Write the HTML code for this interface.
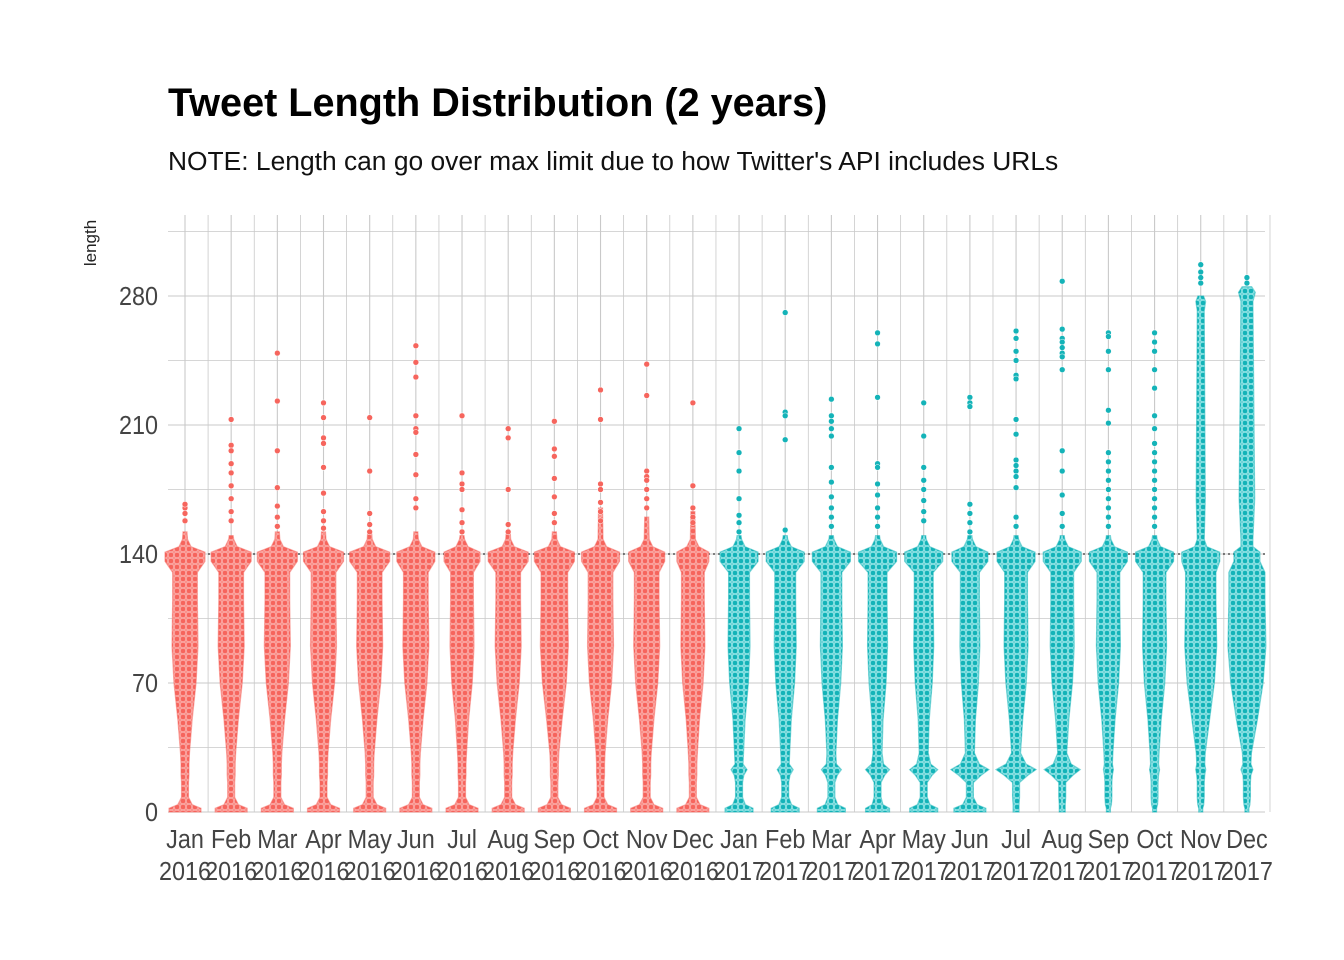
<!DOCTYPE html>
<html><head><meta charset="utf-8">
<style>
body{margin:0;background:#fff;}
svg{display:block;font-family:"Liberation Sans",sans-serif;}
</style></head>
<body>
<svg id="chart" width="1344" height="960" viewBox="0 0 1344 960">
<defs>
<pattern id="dotsR" width="6" height="6" patternUnits="userSpaceOnUse"><rect width="6" height="6" fill="#f9928b"/><circle cx="3" cy="3" r="2.7" fill="#F6655D" stroke="#fcc" stroke-width="0.5"/></pattern>
<pattern id="dotsT" width="6" height="6" patternUnits="userSpaceOnUse"><rect width="6" height="6" fill="#6fd3d6"/><circle cx="3" cy="3" r="2.7" fill="#14B3B8" stroke="#cff" stroke-width="0.5"/></pattern>
</defs>
<text x="168" y="116" font-size="40" font-weight="bold" fill="#000" transform="translate(168,0) scale(0.99,1) translate(-168,0)">Tweet Length Distribution (2 years)</text>
<text x="168" y="170" font-size="26" fill="#111" transform="translate(168,0) scale(1.015,1) translate(-168,0)">NOTE: Length can go over max limit due to how Twitter's API includes URLs</text>
<text transform="translate(96,243) rotate(-90)" text-anchor="middle" font-size="17" fill="#222">length</text>
<g id="grid"></g><g id="marks"></g><g id="axes"></g>
</svg>
<script>
const months=["Jan","Feb","Mar","Apr","May","Jun","Jul","Aug","Sep","Oct","Nov","Dec","Jan","Feb","Mar","Apr","May","Jun","Jul","Aug","Sep","Oct","Nov","Dec"];
const years=[2016,2016,2016,2016,2016,2016,2016,2016,2016,2016,2016,2016,2017,2017,2017,2017,2017,2017,2017,2017,2017,2017,2017,2017];
const yTicks=[0,70,140,210,280];
const w0=[16,16,16,16,16,16,16,16,16,16,16,16,14,14,14,12,14,16,3,3,2,2,2,2];
const w23=[4,4,4,4,4,4,4,4,4,4,4,4,8,8,10,12,14,19,20,18,5,5,5,6];
const wMid=[13,13,13,13,13,13,12,13,14,13,13,12,11,11,11,10,10,10,12,12,12,12,16,19];
const w140=[20,20,20,20,20,19,18,20,20,19,18,16,19,19,19,19,19,18,19,19,19,19,19,13];
const topDense=[152,150,152,152,152,152,150,152,152,165,160,163,150,150,150,150,150,150,150,150,150,150,280,285];
const wAbove=[2.5,2.5,2.5,2.5,2.5,2.5,2.5,2.5,2.5,2.5,2.5,2.5,2.5,2.5,2.5,2.5,2.5,2.5,2.5,2.5,2.5,2.5,3.5,6];
const outliers=[
[158,162,165,167],
[213,199,196,189,184,177,170,163,158],
[249,223,196,176,166,160,155],
[222,214,203,200,187,173,163,158,154],
[214,185,162,156,152],
[253,244,236,215,208,206,194,183,170,165],
[215,184,178,175,164,157,152],
[208,203,175,156,152],
[212,197,193,181,171,162,157],
[229,213,178,175,168,163,158],
[243,226,185,182,180,175,170,165],
[222,177,165,160,157],
[208,195,185,170,161,157,152],
[271,217,215,202,153],
[224,215,212,208,204,187,179,171,165,160,155],
[260,254,225,189,187,178,172,165,160,155],
[222,204,187,180,175,169,163,158],
[225,222,220,167,162,157,152],
[261,257,250,245,237,235,213,205,191,188,185,182,176,160,155],
[288,262,257,255,252,249,247,240,196,185,172,162,155],
[260,258,250,240,218,211,195,190,185,180,175,170,165,160,155],
[260,255,250,240,230,215,208,200,195,190,185,180,175,170,165,160,155],
[297,293,290,287],
[290,287]];
const NS="http://www.w3.org/2000/svg";
const X0=185,DX=46.17,PL=168,PR=1265,PT=215,PB=812;
function xs(i){return X0+i*DX;}
function ys(v){return 812-v*(812-296)/280;}
function mk(t,a,p){const e=document.createElementNS(NS,t);for(const k in a)e.setAttribute(k,a[k]);p.appendChild(e);return e;}
const grid=document.getElementById('grid'),marks=document.getElementById('marks'),axes=document.getElementById('axes');
for(let v=0;v<=315;v+=35){const l=mk('line',{x1:PL,x2:PR,y1:ys(v),y2:ys(v),stroke:'#c9c9c9','stroke-width':v%70===0?1.1:0.8},grid);

}
for(let i=-0.5;i<months.length;i+=0.5){const x=xs(i);if(x<PL-1)continue;const l=mk('line',{x1:x,x2:x,y1:PT,y2:PB,stroke:'#c9c9c9','stroke-width':Number.isInteger(i)?1.1:0.8},grid);

}
const ref=mk('line',{x1:PL,x2:PR,y1:ys(140),y2:ys(140),stroke:'#333','stroke-width':1.3,'stroke-dasharray':'2,3'},grid);


months.forEach((m,i)=>{
 const cx=xs(i),col=years[i]===2016?'#F6655D':'#14B3B8',pat=years[i]===2016?'url(#dotsR)':'url(#dotsT)';
 let prof=[[0,w0[i]],[2,w0[i]],[4,Math.max(3,w0[i]*0.45)],[8,3.5],[16,3.5],[20,Math.max(4,w23[i]*0.6)],[23,w23[i]],[26,Math.max(4,w23[i]*0.5)],[32,4.5],[50,wMid[i]*0.55],[70,wMid[i]*0.85],[90,wMid[i]],[115,wMid[i]*0.95],[130,wMid[i]*0.95],[136,w140[i]],[141,w140[i]],[144,Math.max(wAbove[i],6)],[148,wAbove[i]]];
 if(topDense[i]>200){prof.push([170,wAbove[i]*1.3],[topDense[i]-8,wAbove[i]],[topDense[i]-3,wAbove[i]*1.4],[topDense[i],wAbove[i]*0.8]);}
 else prof.push([topDense[i],wAbove[i]*0.8]);
 let d='M'+cx+','+ys(0);
 prof.forEach(p=>d+=' L'+(cx+p[1])+','+ys(p[0]));
 prof.slice().reverse().forEach(p=>d+=' L'+(cx-p[1])+','+ys(p[0]));
 d+='Z';
 const sh=mk('path',{d:d,fill:pat,stroke:col,'stroke-width':1.2,'stroke-opacity':0.5},marks);
 
 
 outliers[i].forEach(v=>{const c=mk('circle',{cx:cx,cy:ys(v),r:2.9,fill:col,stroke:'#fff','stroke-width':0.5},marks);
 
 });
 const t1=mk('text',{x:cx,y:848,'text-anchor':'middle','font-size':26,fill:'#444',transform:`translate(${cx},0) scale(0.9,1) translate(${-cx},0)`},axes);t1.textContent=m;
 
 
 const t2=mk('text',{x:cx,y:880,'text-anchor':'middle','font-size':26,fill:'#444',transform:`translate(${cx},0) scale(0.9,1) translate(${-cx},0)`},axes);t2.textContent=years[i];
 
 
});
yTicks.forEach(v=>{const t=mk('text',{x:158,y:ys(v)+9,'text-anchor':'end','font-size':26,fill:'#444',transform:`translate(158,0) scale(0.9,1) translate(-158,0)`},axes);t.textContent=v;

});
</script>
</body></html>
